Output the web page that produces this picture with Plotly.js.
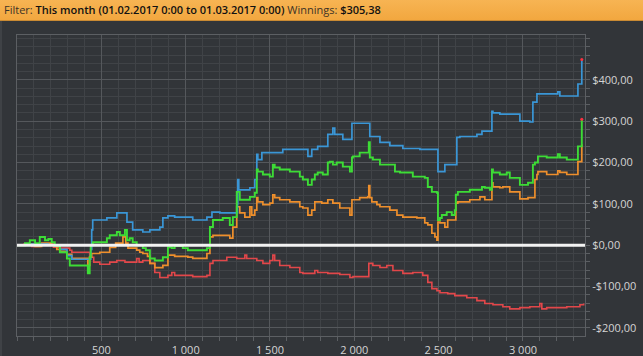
<!DOCTYPE html>
<html>
<head>
<meta charset="utf-8">
<script src="https://cdn.plot.ly/plotly-3.0.1.min.js"></script>
<style>
  html, body { margin:0; padding:0; background:#323539; width:643px; height:356px; overflow:hidden; }
  #chart { position:absolute; left:0; top:0; width:643px; height:356px; }
  #hdr { position:absolute; left:0; top:0; width:643px; height:21px; background:linear-gradient(#f7b453,#f2a73f);
         border-bottom:1px solid #c98a33; box-sizing:border-box; font-family:"Open Sans","Liberation Sans",sans-serif;
         font-size:11px; line-height:20px; padding-left:4px; color:#3c3326; white-space:nowrap; z-index:5; }
  #hdr b { color:#111; font-weight:600; }
  #lb { position:absolute; left:0; top:21px; width:2px; height:335px; background:#3f4246; z-index:5; }
</style>
</head>
<body>
<div id="chart"></div>
<div id="hdr">Filter: <b>This month (01.02.2017 0:00 to 01.03.2017 0:00)</b> Winnings: <b>$305,38</b></div>
<div id="lb"></div>
<script>
// hands (x) and cumulative dollars (y) per series
const blueX = [0,87,186,254,296,325,437,443,449,533,592,652,686,746,788,817,847,865,895,935,1042,1126,1156,1203,1303,1307,1309,1315,1381,1410,1422,1428,1452,1576,1725,1748,1783,1843,1873,1884,1932,1986,2092,2152,2211,2288,2389,2496,2537,2608,2626,2727,2757,2816,2822,2863,2982,3041,3059,3083,3201,3207,3219,3326,3349];
const blueY = [0,3,0,-10,-25,-34,-10,37,61,66,78,56,37,32,37,37,44,66,71,68,61,68,80,78,78,100,159,134,139,159,220,207,224,232,215,232,239,268,283,268,256,295,263,249,241,234,232,178,195,261,263,268,276,324,320,317,300,298,346,366,366,371,361,390,449];

const greenX = [0,17,47,76,107,135,166,186,206,224,254,296,313,420,431,437,449,533,550,592,610,640,652,668,686,710,746,764,788,817,865,895,918,935,983,1013,1126,1144,1162,1220,1262,1280,1303,1321,1381,1410,1422,1428,1458,1499,1517,1528,1558,1618,1677,1695,1725,1748,1766,1783,1813,1843,1855,1873,1896,1932,1974,1986,1992,2032,2086,2092,2110,2152,2241,2271,2347,2418,2436,2460,2490,2496,2508,2519,2548,2578,2596,2602,2614,2685,2757,2774,2804,2816,2822,2863,2904,2922,2982,3030,3059,3071,3089,3141,3207,3219,3260,3326,3349];
const greenY = [0,0,5,12,5,20,12,15,7,-2,-17,-32,-49,-68,-29,0,7,17,24,32,24,37,12,17,7,0,-7,-12,-32,-37,-29,-5,-7,-2,-7,-12,-7,44,61,66,49,68,129,110,117,127,183,178,171,166,195,188,183,178,166,159,146,159,171,176,171,200,202,195,200,190,178,212,215,224,249,212,207,195,178,176,166,163,141,129,127,61,66,73,80,73,85,122,129,134,141,139,134,183,176,171,176,163,146,151,195,200,215,212,220,212,207,239,305];

const orangeX = [0,47,107,146,206,236,254,296,325,420,431,443,491,550,585,628,645,658,710,728,746,774,788,817,865,895,935,1013,1042,1126,1144,1162,1262,1280,1303,1321,1351,1381,1392,1410,1422,1428,1458,1499,1517,1528,1558,1618,1677,1695,1725,1748,1766,1807,1843,1873,1914,1974,1986,2032,2080,2086,2092,2104,2134,2152,2211,2253,2288,2371,2418,2436,2460,2478,2490,2496,2508,2537,2554,2602,2614,2685,2745,2774,2816,2822,2863,2881,2922,2982,3030,3071,3083,3089,3141,3207,3219,3260,3326,3349];
const orangeY = [0,3,-3,5,0,-10,-15,-22,-32,-49,-29,-20,-17,-5,5,20,5,-7,-12,-17,-20,-27,-44,-54,-49,-24,-27,-29,-32,-20,20,24,17,44,93,78,68,93,73,85,115,105,98,102,122,115,110,105,93,90,73,85,105,102,110,102,90,73,110,115,117,144,115,105,98,93,85,73,68,66,54,49,29,20,12,56,54,44,61,102,105,110,117,110,151,141,139,141,129,112,115,159,171,178,171,180,176,171,202,244];

const redX = [0,40,87,136,216,254,313,325,415,431,455,491,550,592,640,710,724,746,788,817,847,895,918,935,1042,1126,1144,1162,1244,1303,1351,1362,1422,1458,1499,1517,1528,1558,1618,1677,1695,1766,1783,1843,1914,1974,1992,2086,2110,2152,2193,2229,2288,2347,2406,2436,2460,2490,2508,2554,2596,2667,2727,2774,2822,2881,2922,2982,3041,3100,3112,3141,3201,3260,3338,3360];
const redY = [0,2,-3,3,-5,-7,-12,-17,-17,-29,-41,-46,-41,-37,-41,-32,-41,-37,-44,-66,-78,-73,-66,-73,-76,-73,-44,-37,-29,-32,-24,-32,-37,-44,-37,-24,-37,-49,-54,-66,-68,-61,-66,-68,-71,-78,-76,-44,-49,-54,-49,-61,-68,-66,-73,-90,-105,-110,-115,-117,-122,-127,-134,-141,-144,-149,-154,-151,-149,-141,-154,-151,-151,-149,-144,-141];

const xTickVals = [500,1000,1500,2000,2500,3000];
const xTickText = ['500','1 000','1 500','2 000','2 500','3 000'];
const yTickVals = [-200,-100,0,100,200,300,400];
const yTickText = ['-$200,00','-$100,00','$0,00','$100,00','$200,00','$300,00','$400,00'];

const C = { blue:'#3a96d6', green:'#3ddc36', orange:'#ee8f2c', red:'#e2474a' };
const mk = (x,y,c,w) => ({x, y, type:'scatter', mode:'lines', line:{color:c, width:w, shape:'hv'}, hoverinfo:'skip', showlegend:false});
const last = a => a[a.length-1];

const data = [
  mk(redX, redY, C.red, 1.6),
  mk(orangeX, orangeY, C.orange, 1.7),
  mk(blueX, blueY, C.blue, 1.7),
  mk(greenX, greenY, C.green, 1.9),
  {x:[last(blueX), last(greenX)], y:[last(blueY), last(greenY)], type:'scatter', mode:'markers',
   marker:{color:'#ff3040', size:3}, hoverinfo:'skip', showlegend:false}
];

const axFont = {family:'"Open Sans","Liberation Sans",sans-serif', size:11, color:'#d4d4d4'};
const layout = {
  width:643, height:356,
  margin:{l:17, r:58, t:35, b:20, pad:0},
  paper_bgcolor:'#323539', plot_bgcolor:'#323539',
  showlegend:false,
  xaxis:{
    range:[0,3368], tickmode:'array', tickvals:xTickVals, ticktext:xTickText,
    showgrid:true, gridcolor:'#55585c', gridwidth:1, zeroline:false,
    showline:true, linecolor:'#5c5f63', linewidth:1, mirror:true,
    ticks:'outside', ticklen:4, tickcolor:'#5c5f63', tickfont:axFont,
    minor:{tickmode:'linear', tick0:0, dtick:100, showgrid:true, gridcolor:'#404347', gridwidth:1, ticks:'outside', ticklen:4, tickcolor:'#5c5f63'},
    fixedrange:true
  },
  yaxis:{
    range:[-219.6,508.5], side:'right', tickmode:'array', tickvals:yTickVals, ticktext:yTickText,
    showgrid:true, gridcolor:'#55585c', gridwidth:1, zeroline:false,
    showline:true, linecolor:'#5c5f63', linewidth:1, mirror:true,
    ticks:'outside', ticklen:4, tickcolor:'#5c5f63', tickfont:axFont,
    minor:{tickmode:'linear', tick0:0, dtick:20, showgrid:true, gridcolor:'#404347', gridwidth:1, ticks:'outside', ticklen:4, tickcolor:'#5c5f63'},
    fixedrange:true
  },
  shapes:[{type:'line', xref:'paper', x0:0, x1:1, yref:'y', y0:0, y1:0, layer:'above', line:{color:'#f2f2f2', width:3}}]
};

Plotly.newPlot('chart', data, layout, {staticPlot:true, displayModeBar:false});
</script>
</body>
</html>
